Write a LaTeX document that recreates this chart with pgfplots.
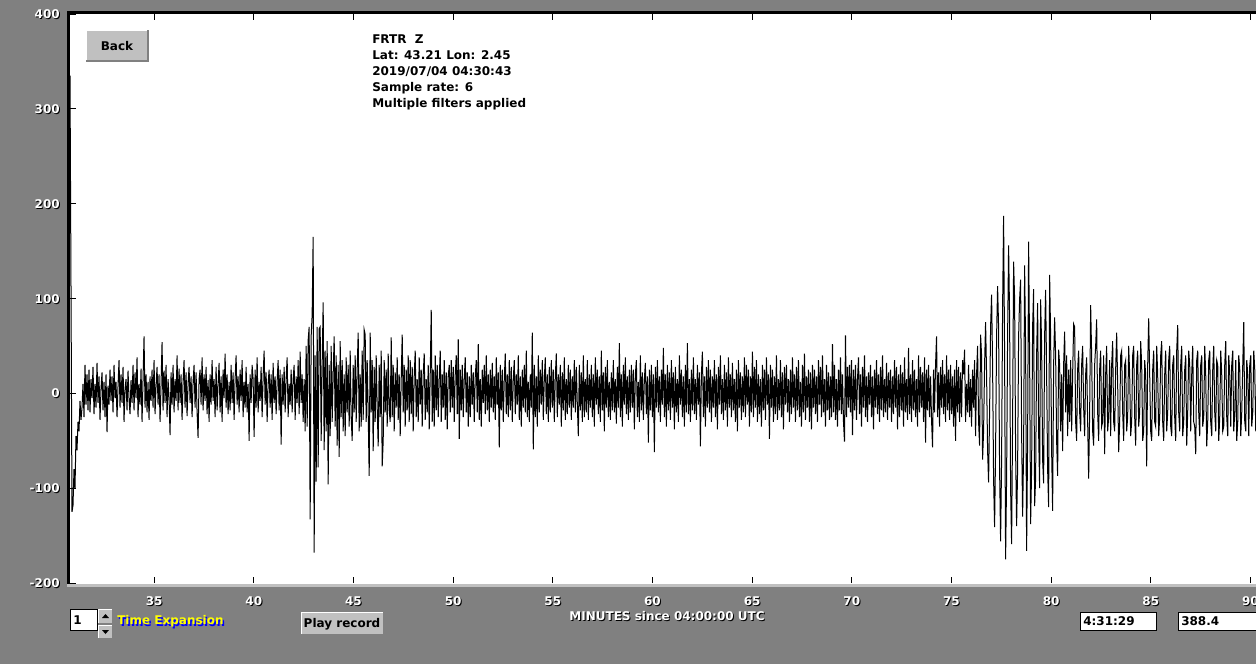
\documentclass[border=0pt]{standalone}
\usepackage{fontspec}
\setmainfont{DejaVu Sans}
\usepackage{pgfplots}
\pgfplotsset{compat=1.18}
\usepackage{pgfplotstable}

\definecolor{winbg}{HTML}{808080}
\definecolor{btn}{HTML}{C0C0C0}
\definecolor{tblue}{HTML}{0000FF}
\definecolor{tyellow}{HTML}{FFFF00}

\newcommand\ui{\fontsize{9}{10}\selectfont\bfseries}
% white text with a one pixel black shadow
\newcommand\sh[1]{\makebox[0pt][l]{\hspace{0.75pt}\raisebox{-0.75pt}{\color{black}#1}}{\color{white}#1}}

% FRTR Z trace, one value per screen pixel (0.0502 min)
\pgfplotstableread[header=false,row sep=\\]{
335\\ 113\\ -125\\ -118\\ -80\\ -100\\ -45\\ -60\\ -30\\ -40\\ -8\\ -28\\ -15\\ 10\\ -25\\ 30\\ -12\\ 20\\ -18\\ 25\\
-20\\ 15\\ -5\\ 28\\ -22\\ 10\\ -15\\ 32\\ -10\\ 18\\ -28\\ 5\\ 22\\ -18\\ 12\\ -25\\ 20\\ -41\\ 8\\ -12\\
25\\ -8\\ 18\\ -20\\ 30\\ -5\\ 12\\ -25\\ 8\\ 35\\ -15\\ 20\\ -10\\ 28\\ -30\\ 5\\ 15\\ -18\\ 24\\ -6\\
-22\\ 14\\ -10\\ 30\\ -18\\ 22\\ -5\\ 38\\ -25\\ 10\\ -12\\ 26\\ -30\\ 15\\ 60\\ -15\\ 20\\ -20\\ 12\\ -28\\
18\\ -8\\ 25\\ -15\\ 35\\ -22\\ 8\\ 28\\ -12\\ 20\\ -30\\ 10\\ 54\\ -18\\ 24\\ -10\\ 30\\ -25\\ 15\\ -5\\
-44\\ 22\\ -12\\ 30\\ -20\\ 15\\ -8\\ 40\\ -18\\ 26\\ -10\\ 20\\ -28\\ 12\\ 35\\ -15\\ 22\\ -24\\ 10\\ 28\\
-10\\ 18\\ -25\\ 12\\ 30\\ -15\\ 22\\ -20\\ -47\\ 15\\ 25\\ -12\\ 38\\ -18\\ 20\\ -8\\ 28\\ -22\\ 14\\ -30\\
20\\ -12\\ 35\\ -8\\ 15\\ -25\\ 28\\ -18\\ 10\\ 32\\ -20\\ 18\\ -30\\ 25\\ -5\\ 42\\ -15\\ 20\\ -22\\ 12\\
-18\\ 30\\ -10\\ 22\\ -28\\ 15\\ 40\\ -12\\ 18\\ -20\\ 25\\ -8\\ 35\\ -25\\ 12\\ -15\\ 28\\ -20\\ 10\\ -50\\
20\\ -10\\ 30\\ 15\\ -46\\ 25\\ -15\\ 38\\ -20\\ 12\\ -8\\ 28\\ -25\\ 18\\ 45\\ -12\\ 22\\ -30\\ 10\\ 25\\
-15\\ 20\\ -28\\ 32\\ -10\\ 18\\ -22\\ 12\\ 35\\ -18\\ 25\\ -54\\ 20\\ -12\\ 28\\ -20\\ 15\\ 38\\ -25\\ 10\\
-12\\ 25\\ -20\\ 15\\ 30\\ -28\\ 18\\ -10\\ 35\\ -22\\ 44\\ -10\\ 20\\ -30\\ 15\\ -40\\ 50\\ -35\\ 56\\ 70\\
-133\\ 60\\ 83\\ 165\\ -168\\ 40\\ -93\\ 70\\ -78\\ 68\\ 70\\ -50\\ 30\\ 96\\ -60\\ 45\\ -40\\ 55\\ -96\\ 30\\
-45\\ 50\\ -30\\ 20\\ 60\\ -35\\ 40\\ -55\\ 30\\ -67\\ 55\\ -25\\ 35\\ -40\\ 20\\ -45\\ 38\\ -20\\ 30\\ -35\\
45\\ -25\\ -50\\ 30\\ -20\\ 40\\ -30\\ 25\\ 64\\ -40\\ 20\\ -35\\ 45\\ -28\\ 67\\ 62\\ -30\\ 35\\ -20\\ -87\\
64\\ -20\\ 35\\ -61\\ 28\\ -30\\ 40\\ -15\\ -56\\ 30\\ -25\\ 45\\ -77\\ -50\\ 35\\ -20\\ 25\\ -35\\ 42\\ -18\\
-30\\ 59\\ -25\\ 30\\ -40\\ 22\\ -15\\ 38\\ -28\\ 20\\ -45\\ 15\\ 62\\ -20\\ 30\\ -35\\ 25\\ -18\\ 40\\ -30\\
35\\ -22\\ 28\\ -40\\ 18\\ 45\\ -25\\ 15\\ -30\\ 38\\ -12\\ 25\\ -35\\ 20\\ 42\\ -28\\ 15\\ -20\\ 30\\ -38\\
20\\ 88\\ -30\\ 25\\ -35\\ 40\\ -18\\ 30\\ -25\\ 15\\ 45\\ -30\\ 20\\ -15\\ 35\\ -28\\ 22\\ -38\\ 18\\ 30\\
-20\\ 35\\ -15\\ 28\\ -30\\ 20\\ 40\\ -22\\ 57\\ -48\\ 25\\ -18\\ 30\\ -25\\ 15\\ 38\\ -20\\ 22\\ -35\\ 18\\
-25\\ 30\\ -12\\ 22\\ -30\\ 18\\ 35\\ -20\\ 52\\ -28\\ 15\\ -35\\ 25\\ -10\\ 30\\ -22\\ 40\\ -18\\ 20\\ -30\\
25\\ -15\\ 32\\ -20\\ 18\\ -28\\ 38\\ -12\\ 22\\ -57\\ 30\\ -18\\ 25\\ -30\\ 15\\ 42\\ -22\\ 20\\ -25\\ 35\\
-18\\ 28\\ -30\\ 15\\ 35\\ -22\\ 20\\ -12\\ 40\\ -28\\ 18\\ -35\\ 25\\ -15\\ 30\\ -20\\ 45\\ -25\\ 12\\ -30\\
20\\ -15\\ 64\\ -59\\ 30\\ -25\\ 18\\ -35\\ 40\\ -20\\ 25\\ -12\\ 35\\ -28\\ 15\\ 38\\ -22\\ 20\\ -30\\ 28\\
-20\\ 35\\ -15\\ 25\\ -30\\ 18\\ 42\\ -25\\ 20\\ -12\\ 30\\ -35\\ 22\\ -18\\ 38\\ -28\\ 15\\ -22\\ 30\\ -15\\
25\\ -28\\ 18\\ -15\\ 35\\ -20\\ 28\\ -12\\ -45\\ 30\\ -18\\ 22\\ -30\\ 40\\ -25\\ 15\\ -20\\ 35\\ -28\\ 20\\
-15\\ 30\\ -25\\ 20\\ -35\\ 38\\ -12\\ 25\\ -22\\ 18\\ -30\\ 45\\ -18\\ 22\\ -40\\ 28\\ -15\\ 35\\ -25\\ 12\\
-28\\ 22\\ -18\\ 35\\ -20\\ 15\\ -32\\ 28\\ -15\\ 53\\ -25\\ 20\\ -35\\ 30\\ -12\\ 38\\ -22\\ 18\\ -28\\ 25\\
-20\\ 30\\ -15\\ 25\\ -38\\ 20\\ 35\\ -25\\ 12\\ -30\\ 40\\ -18\\ 22\\ -28\\ 15\\ 32\\ -22\\ 18\\ -52\\ 25\\
-18\\ 30\\ -25\\ 20\\ -62\\ 28\\ -15\\ 35\\ -20\\ 18\\ -30\\ 25\\ -12\\ 48\\ -25\\ 20\\ -35\\ 30\\ -18\\ 22\\
-28\\ 35\\ -15\\ 22\\ -38\\ 28\\ -20\\ 15\\ -30\\ 40\\ -12\\ 25\\ -25\\ 18\\ -35\\ 30\\ -20\\ 53\\ -22\\ 15\\
-30\\ 25\\ -18\\ 38\\ -22\\ 15\\ -28\\ 30\\ -12\\ 22\\ -56\\ 20\\ 44\\ -25\\ 18\\ -35\\ 28\\ -15\\ 35\\ -20\\
25\\ -30\\ 18\\ -15\\ 35\\ -25\\ 20\\ -38\\ 28\\ -12\\ 40\\ -22\\ 15\\ -28\\ 30\\ -18\\ 22\\ -35\\ 38\\ -15\\
20\\ -25\\ 32\\ -18\\ 15\\ -30\\ 25\\ -40\\ 35\\ -15\\ 22\\ -28\\ 18\\ -20\\ 38\\ -25\\ 30\\ -12\\ 25\\ -35\\
18\\ -20\\ 44\\ -25\\ 28\\ -15\\ 35\\ -30\\ 20\\ -22\\ 15\\ -35\\ 30\\ -18\\ 25\\ -28\\ 38\\ -12\\ 20\\ -48\\
30\\ -15\\ 25\\ -30\\ 18\\ -22\\ 40\\ -28\\ 15\\ -18\\ 35\\ -25\\ 22\\ -38\\ 28\\ -12\\ 30\\ -20\\ 15\\ -30\\
25\\ -22\\ 38\\ -15\\ 20\\ -30\\ 28\\ -18\\ 35\\ -25\\ 12\\ -35\\ 30\\ -20\\ 42\\ -28\\ 18\\ -15\\ 25\\ -30\\
22\\ -38\\ 30\\ -15\\ 25\\ -22\\ 18\\ -30\\ 35\\ -12\\ 28\\ -25\\ 40\\ -20\\ 15\\ -35\\ 30\\ -18\\ 22\\ -28\\
18\\ -25\\ 52\\ -20\\ 30\\ -28\\ 15\\ -35\\ 25\\ -18\\ 38\\ -22\\ 20\\ -30\\ -51\\ 61\\ -25\\ 28\\ -15\\ 30\\
-20\\ 35\\ -44\\ 25\\ -18\\ 30\\ -28\\ 15\\ 38\\ -22\\ 20\\ -35\\ 28\\ -15\\ 40\\ -25\\ 18\\ -30\\ 22\\ -12\\
30\\ -25\\ 18\\ -38\\ 25\\ -15\\ 35\\ -22\\ 20\\ -30\\ 28\\ -18\\ 40\\ -25\\ 15\\ -20\\ 32\\ -28\\ 22\\ -15\\
25\\ -30\\ 18\\ -22\\ 35\\ -15\\ 28\\ -38\\ 20\\ -25\\ 30\\ -18\\ 22\\ -35\\ 38\\ -20\\ 15\\ -28\\ 48\\ -22\\
20\\ -30\\ 35\\ -18\\ 25\\ -25\\ 15\\ -35\\ 40\\ -20\\ 28\\ -15\\ 22\\ -30\\ 38\\ -52\\ 25\\ -18\\ 30\\ -25\\
18\\ -28\\ -57\\ 25\\ -20\\ 30\\ 60\\ -25\\ 22\\ -35\\ 28\\ -15\\ 35\\ -22\\ 20\\ -30\\ 40\\ -18\\ 25\\ -28\\
30\\ -22\\ 18\\ -35\\ 25\\ -50\\ 35\\ -20\\ 28\\ -30\\ 22\\ -25\\ 35\\ 20\\ 46\\ -30\\ 10\\ -20\\ 30\\ -25\\
15\\ -35\\ 25\\ -15\\ 35\\ -45\\ 20\\ 50\\ -30\\ -55\\ 62\\ 40\\ -70\\ -40\\ 30\\ 75\\ 20\\ -60\\ -94\\ -20\\
70\\ 104\\ 30\\ -90\\ -141\\ -60\\ 60\\ 113\\ 70\\ -80\\ -156\\ -70\\ 90\\ 187\\ 40\\ -175\\ -90\\ 60\\ 156\\ 80\\
-100\\ -159\\ -30\\ 139\\ 100\\ -60\\ -140\\ -80\\ 60\\ 99\\ 120\\ -40\\ -130\\ -60\\ 135\\ 50\\ -166\\ -50\\ 160\\ 40\\
-138\\ -80\\ 70\\ 110\\ -119\\ -90\\ 40\\ 95\\ -40\\ -100\\ 99\\ 50\\ -70\\ -95\\ 60\\ 109\\ 20\\ -80\\ -120\\ 125\\
60\\ -60\\ -124\\ 30\\ 80\\ 40\\ -50\\ -87\\ 46\\ 30\\ -40\\ 20\\ -61\\ 30\\ 65\\ -20\\ 40\\ -45\\ 25\\ -30\\
35\\ -40\\ 20\\ 73\\ 70\\ -30\\ -50\\ 25\\ 45\\ -20\\ -40\\ 30\\ 50\\ -15\\ -45\\ 20\\ 38\\ -30\\ -90\\ -20\\
93\\ 40\\ -40\\ -55\\ 30\\ 50\\ 78\\ -20\\ -50\\ 25\\ 45\\ -35\\ -30\\ 40\\ -64\\ 20\\ 50\\ -40\\ -25\\ 35\\
-45\\ 30\\ 55\\ -30\\ -40\\ 25\\ 64\\ 10\\ -62\\ -30\\ 40\\ 45\\ -20\\ -50\\ 30\\ 35\\ -40\\ -25\\ 50\\ 20\\
-45\\ -30\\ 40\\ 50\\ -25\\ -55\\ 30\\ 45\\ -35\\ -20\\ 55\\ 30\\ -50\\ -40\\ 35\\ 20\\ -77\\ 30\\ 79\\ 20\\
-40\\ -50\\ 25\\ 45\\ -30\\ -35\\ 50\\ 20\\ -45\\ -25\\ 40\\ 55\\ -30\\ -50\\ 20\\ 45\\ -40\\ -20\\ 35\\ 50\\
-35\\ -45\\ 30\\ 40\\ -25\\ -50\\ 45\\ 72\\ -20\\ -40\\ 30\\ 50\\ -45\\ -30\\ 25\\ 40\\ -55\\ -20\\ 45\\ 30\\
-40\\ 20\\ 50\\ -30\\ -35\\ -64\\ 35\\ 45\\ -20\\ -45\\ 30\\ 40\\ -35\\ -25\\ 50\\ 20\\ -56\\ -30\\ 35\\ 45\\
-30\\ -45\\ 25\\ 50\\ -20\\ -40\\ 35\\ 30\\ -50\\ -25\\ 45\\ 20\\ -40\\ -35\\ 30\\ 55\\ -25\\ -45\\ 40\\ 20\\
-35\\ 30\\ 45\\ -40\\ -20\\ 35\\ -50\\ -30\\ 40\\ 25\\ -45\\ -20\\ 30\\ 75\\ -30\\ -40\\ 35\\ 20\\ -45\\ 30\\
40\\ -35\\ -20\\ 45\\ 25\\ -40\\ 10\\ -30\\ 20\\ -15\\ 25\\ -20\\ 15\\ -10\\ 20\\ -15\\ 10\\ -5\\ 0\\ 0\\
}\trace

\begin{document}
\begin{tikzpicture}
\useasboundingbox (0,0) rectangle (942pt,-498pt);
\fill[winbg] (0,0) rectangle (942pt,-498pt);
\fill[white] (52.5pt,-10.5pt) rectangle (942pt,-438pt);

\begin{axis}[
  at={(52.5pt,-437.25pt)}, anchor=south west,
  scale only axis, width=889.5pt, height=426.75pt,
  xmin=30.78, xmax=90.28, ymin=-200, ymax=400,
  axis line style={draw=none},
  tick align=inside, major tick length=4.5pt,
  tick style={black, line width=0.75pt},
  xtick={35,40,...,90}, xtick pos=both,
  xticklabels={\sh{35},\sh{40},\sh{45},\sh{50},\sh{55},\sh{60},\sh{65},\sh{70},\sh{75},\sh{80},\sh{85},\sh{90}},
  ytick={-200,-100,0,100,200,300,400}, ytick pos=left,
  yticklabels={\sh{-200},\sh{-100},\sh{0},\sh{100},\sh{200},\sh{300},\sh{400}},
  xticklabel style={anchor=north, inner sep=0pt, yshift=-10pt, font=\ui},
  yticklabel style={anchor=east, inner sep=0pt, xshift=-7.5pt, yshift=-0.5pt, font=\ui},
]
\addplot[black, line width=0.75pt, mark=none] table[x expr=30.78+0.0502*\coordindex, y index=0] {\trace};
\end{axis}

\begin{scope}[x=0.75pt, y=-0.75pt, font=\ui]
% frame of the trace window
\fill[black] (67,11) rectangle (1256,14);
\fill[black] (67,11) rectangle (70,584);
\fill[btn] (67,584) rectangle (1256,587);

% Back button
\fill[btn] (86,30) rectangle (148,61);
\draw[white, line width=0.75pt] (86.5,60) -- (86.5,30.5) -- (147,30.5);
\draw[winbg, line width=1.5pt] (86,60.5) -- (148,60.5) -- (148,30);
\node[inner sep=0pt] at (117,46) {Back};

% station information
\node[anchor=base west, inner sep=0pt] at (372,43) {FRTR\ \ Z};
\node[anchor=base west, inner sep=0pt] at (372,59) {Lat: 43.21 Lon: 2.45};
\node[anchor=base west, inner sep=0pt] at (372,75) {2019/07/04 04:30:43};
\node[anchor=base west, inner sep=0pt] at (372,91) {Sample rate: 6};
\node[anchor=base west, inner sep=0pt] at (372,107) {Multiple filters applied};

% x axis title
\node[inner sep=0pt] at (667,617) {\sh{MINUTES since 04:00:00 UTC}};

% time expansion control
\filldraw[fill=white, draw=black, line width=0.75pt] (70.5,609.5) rectangle (97.5,630.5);
\node[anchor=west, inner sep=0pt] at (73,620.5) {1};
\fill[btn] (98,609) rectangle (112,623);
\fill[btn] (98,625) rectangle (112,638);
\draw[white, line width=0.75pt] (98.5,623) -- (98.5,609.5) -- (112,609.5);
\draw[white, line width=0.75pt] (98.5,638) -- (98.5,625.5) -- (112,625.5);
\fill[black] (102,618) -- (109,618) -- (105.5,614) -- cycle;
\fill[black] (102,630) -- (109,630) -- (105.5,634) -- cycle;
\node[anchor=west, inner sep=0pt, text=tblue] at (118.5,623.5) {Time Expansion};
\node[anchor=west, inner sep=0pt, text=tyellow] at (117,621.5) {Time Expansion};

% Play record button
\fill[btn] (301,612) rectangle (383,634);
\draw[white, line width=0.75pt] (301.5,634) -- (301.5,612.5) -- (383,612.5);
\node[inner sep=0pt] at (342,624) {Play record};

% cursor read-outs
\filldraw[fill=white, draw=black, line width=0.75pt] (1080.5,612.5) rectangle (1156.5,630.5);
\node[anchor=west, inner sep=0pt] at (1083,621.5) {4:31:29};
\filldraw[fill=white, draw=black, line width=0.75pt] (1178.5,612.5) rectangle (1262,630.5);
\node[anchor=west, inner sep=0pt] at (1181,621.5) {388.4};
\end{scope}
\end{tikzpicture}
\end{document}
